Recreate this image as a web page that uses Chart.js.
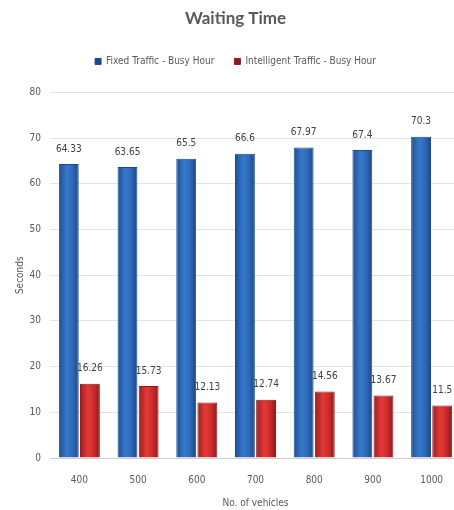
<!DOCTYPE html>
<html lang="en">
<head>
<meta charset="UTF-8">
<title>Waiting Time</title>
<script src="https://cdn.jsdelivr.net/npm/chart.js"></script>
<style>
    html, body {
        margin: 0;
        padding: 0;
        background: #ffffff;
        overflow: hidden; /* plot runs a few px past the right edge, like the source */
    }
    .chart-box {
        width: 462px;
        height: 510px;
    }
</style>
</head>
<body>

<div class="chart-box">
    <canvas id="waitChart"></canvas>
</div>

<script>
    // values
    const vehicles = ['400', '500', '600', '700', '800', '900', '1000'];
    const fixedBusy = [64.33, 63.65, 65.5, 66.6, 67.97, 67.4, 70.3];
    const intelligentBusy = [16.26, 15.73, 12.13, 12.74, 14.56, 13.67, 11.5];
    const yTicks = [0, 10, 20, 30, 40, 50, 60, 70, 80];

    const narrow = "'Liberation Sans Narrow', 'DejaVu Sans Condensed', 'Liberation Sans', sans-serif";
    const textGrey = '#595959';
    const catPct = 0.72;
    const barPct = 0.94;

    // horizontal shading so the bars look a bit rounded, as in the source
    function barShade(stops) {
        return function(context) {
            const chart = context.chart;
            const xScale = chart.scales.x;
            if (!xScale || context.dataIndex === undefined) return stops[1];
            const step = xScale.width / vehicles.length;
            const slot = step * catPct / 2;
            const mid = xScale.getPixelForValue(context.dataIndex) + (context.datasetIndex === 0 ? -slot / 2 : slot / 2);
            const half = slot * barPct / 2;
            if (!isFinite(mid) || !isFinite(half) || half <= 0) return stops[1];
            const g = chart.ctx.createLinearGradient(mid - half, 0, mid + half, 0);
            g.addColorStop(0, stops[0]);
            g.addColorStop(0.4, stops[1]);
            g.addColorStop(0.7, stops[2]);
            g.addColorStop(1, stops[3]);
            return g;
        };
    }

    // numbers above each bar
    const valueLabels = {
        id: 'valueLabels',
        afterDatasetsDraw(chart) {
            const ctx = chart.ctx;
            ctx.save();
            ctx.font = '10px ' + narrow;
            ctx.fillStyle = '#404040';
            ctx.textAlign = 'center';
            ctx.textBaseline = 'middle';
            chart.data.datasets.forEach((ds, i) => {
                chart.getDatasetMeta(i).data.forEach((bar, j) => {
                    ctx.fillText(String(ds.data[j]), bar.x, bar.y - 15);
                });
            });
            ctx.restore();
        }
    };

    // extra room under the legend
    const legendGap = {
        id: 'legendGap',
        beforeInit(chart) {
            const fit = chart.legend.fit;
            chart.legend.fit = function() {
                fit.bind(chart.legend)();
                this.height += 16;
            };
        }
    };

    const ctx = document.getElementById('waitChart').getContext('2d');
    new Chart(ctx, {
        type: 'bar',
        data: {
            labels: vehicles,
            datasets: [{
                label: 'Fixed Traffic - Busy Hour',
                data: fixedBusy,
                backgroundColor: barShade(['#1f4f93', '#3778cc', '#2e69b8', '#1d4782']),
                borderColor: '#1d4a8a',
                borderWidth: 1,
                categoryPercentage: catPct,
                barPercentage: barPct
            }, {
                label: 'Intelligent Traffic - Busy Hour',
                data: intelligentBusy,
                backgroundColor: barShade(['#9e1d1d', '#e23a38', '#cc2a2a', '#8f1a1a']),
                borderColor: '#8a1c1c',
                borderWidth: 1,
                categoryPercentage: catPct,
                barPercentage: barPct
            }]
        },
        options: {
            responsive: true,
            maintainAspectRatio: false,
            animation: false,
            layout: {
                padding: { left: 10, right: 1, top: 0, bottom: 1 }
            },
            plugins: {
                title: {
                    display: true,
                    text: 'Waiting Time',
                    color: textGrey,
                    font: { family: "Lato, 'Open Sans', sans-serif", size: 17, weight: 'bold' },
                    padding: { top: 8, bottom: 8 }
                },
                legend: {
                    display: true,
                    labels: {
                        color: textGrey,
                        font: { family: narrow, size: 10 },
                        boxWidth: 6,
                        boxHeight: 6,
                        padding: 20
                    }
                },
                tooltip: { enabled: false }
            },
            scales: {
                x: {
                    afterFit(scale) { scale.height = 51; },
                    grid: { display: false, drawTicks: false },
                    border: { display: true, color: '#d0d0d0' },
                    ticks: {
                        color: textGrey,
                        font: { family: narrow, size: 10 },
                        padding: 16
                    },
                    title: {
                        display: true,
                        text: 'No. of vehicles',
                        color: textGrey,
                        font: { family: narrow, size: 10 },
                        padding: { top: 0, bottom: 0 }
                    }
                },
                y: {
                    min: 0,
                    max: 80,
                    afterFit(scale) { scale.width = 40; },
                    afterBuildTicks(scale) {
                        scale.ticks = yTicks.map(v => ({ value: v }));
                    },
                    grid: { color: '#e3e3e3', drawTicks: false },
                    border: { display: false },
                    ticks: {
                        color: textGrey,
                        font: { family: narrow, size: 10 },
                        padding: 9
                    },
                    title: {
                        display: true,
                        text: 'Seconds',
                        color: textGrey,
                        font: { family: narrow, size: 10 },
                        padding: { top: 4, bottom: 0 }
                    }
                }
            }
        },
        plugins: [valueLabels, legendGap]
    });
</script>

</body>
</html>
